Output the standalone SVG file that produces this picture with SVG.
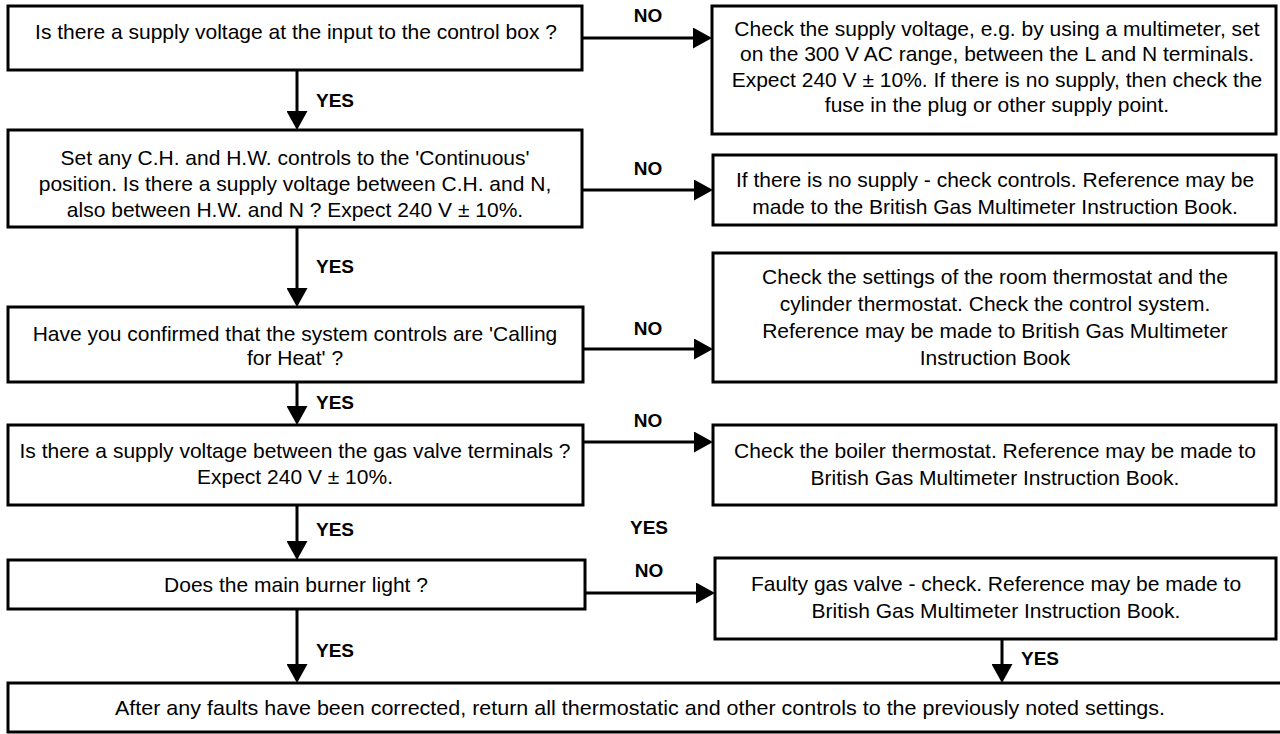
<svg xmlns="http://www.w3.org/2000/svg" width="1280" height="734" viewBox="0 0 1280 734">
<defs>
<marker id="ah" viewBox="0 0 19 21" refX="8" refY="10.5" markerWidth="19" markerHeight="21" orient="auto" markerUnits="userSpaceOnUse">
<path d="M0,0 L19,10.5 L0,21 z" fill="#000"/>
</marker>
</defs>
<style>
rect.box{fill:#fff;stroke:#000;stroke-width:3}
text{font-family:"Liberation Sans",Arial,Helvetica,sans-serif;font-size:21px;fill:#000;text-anchor:middle}
text.lbl{font-weight:bold;font-size:19px}
.conn line{stroke:#000;stroke-width:3;marker-end:url(#ah)}
</style>
<rect width="1280" height="734" fill="#fff"/>
<g class="conn" id="connectors">
<line x1="582" y1="38" x2="701" y2="38"/>
<line x1="297" y1="70" x2="297" y2="119"/>
<line x1="582" y1="190" x2="702" y2="190"/>
<line x1="297" y1="227" x2="297" y2="296"/>
<line x1="583" y1="349" x2="702" y2="349"/>
<line x1="297" y1="382" x2="297" y2="414"/>
<line x1="583" y1="442" x2="702" y2="442"/>
<line x1="297" y1="505" x2="297" y2="549"/>
<line x1="585" y1="593" x2="704" y2="593"/>
<line x1="297" y1="609" x2="297" y2="672"/>
<line x1="1002" y1="639" x2="1002" y2="672"/>
</g>
<g id="labels">
<text class="lbl" x="648" y="22">NO</text>
<text class="lbl" x="335" y="107">YES</text>
<text class="lbl" x="648" y="175">NO</text>
<text class="lbl" x="335" y="273">YES</text>
<text class="lbl" x="648" y="335">NO</text>
<text class="lbl" x="335" y="409">YES</text>
<text class="lbl" x="648" y="427">NO</text>
<text class="lbl" x="335" y="536">YES</text>
<text class="lbl" x="649" y="534">YES</text>
<text class="lbl" x="649" y="577">NO</text>
<text class="lbl" x="335" y="657">YES</text>
<text class="lbl" x="1040" y="665">YES</text>
</g>
<g id="q1">
<rect class="box" x="8" y="6" width="574" height="64"/>
<text x="296" y="39">Is there a supply voltage at the input to the control box ?</text>
</g>
<g id="a1">
<rect class="box" x="712" y="6" width="564" height="128"/>
<text x="997" y="36">Check the supply voltage, e.g. by using a multimeter, set</text>
<text x="997" y="61">on the 300 V AC range, between the L and N terminals.</text>
<text x="997" y="87">Expect 240 V ± 10%. If there is no supply, then check the</text>
<text x="997" y="112">fuse in the plug or other supply point.</text>
</g>
<g id="q2">
<rect class="box" x="8" y="130" width="574" height="97"/>
<text x="295" y="165">Set any C.H. and H.W. controls to the 'Continuous'</text>
<text x="295" y="191">position. Is there a supply voltage between C.H. and N,</text>
<text x="295" y="217">also between H.W. and N ? Expect 240 V ± 10%.</text>
</g>
<g id="a2">
<rect class="box" x="713" y="155" width="563" height="70"/>
<text x="995" y="187">If there is no supply - check controls. Reference may be</text>
<text x="995" y="214">made to the British Gas Multimeter Instruction Book.</text>
</g>
<g id="a3">
<rect class="box" x="713" y="253" width="563" height="129"/>
<text x="995" y="284">Check the settings of the room thermostat and the</text>
<text x="995" y="311">cylinder thermostat. Check the control system.</text>
<text x="995" y="338">Reference may be made to British Gas Multimeter</text>
<text x="995" y="365">Instruction Book</text>
</g>
<g id="q3">
<rect class="box" x="8" y="307" width="575" height="75"/>
<text x="295" y="341">Have you confirmed that the system controls are 'Calling</text>
<text x="295" y="365">for Heat' ?</text>
</g>
<g id="q4">
<rect class="box" x="8" y="425" width="575" height="80"/>
<text x="295" y="458">Is there a supply voltage between the gas valve terminals ?</text>
<text x="295" y="484">Expect 240 V ± 10%.</text>
</g>
<g id="a4">
<rect class="box" x="713" y="425" width="563" height="80"/>
<text x="995" y="458">Check the boiler thermostat. Reference may be made to</text>
<text x="995" y="485">British Gas Multimeter Instruction Book.</text>
</g>
<g id="q5">
<rect class="box" x="8" y="560" width="577" height="49"/>
<text x="296" y="592">Does the main burner light ?</text>
</g>
<g id="a5">
<rect class="box" x="715" y="558" width="561" height="81"/>
<text x="996" y="591">Faulty gas valve - check. Reference may be made to</text>
<text x="996" y="618">British Gas Multimeter Instruction Book.</text>
</g>
<g id="end">
<rect class="box" x="8" y="683" width="1290" height="49"/>
<text x="640" y="715" textLength="1050" lengthAdjust="spacingAndGlyphs">After any faults have been corrected, return all thermostatic and other controls to the previously noted settings.</text>
</g>
</svg>
